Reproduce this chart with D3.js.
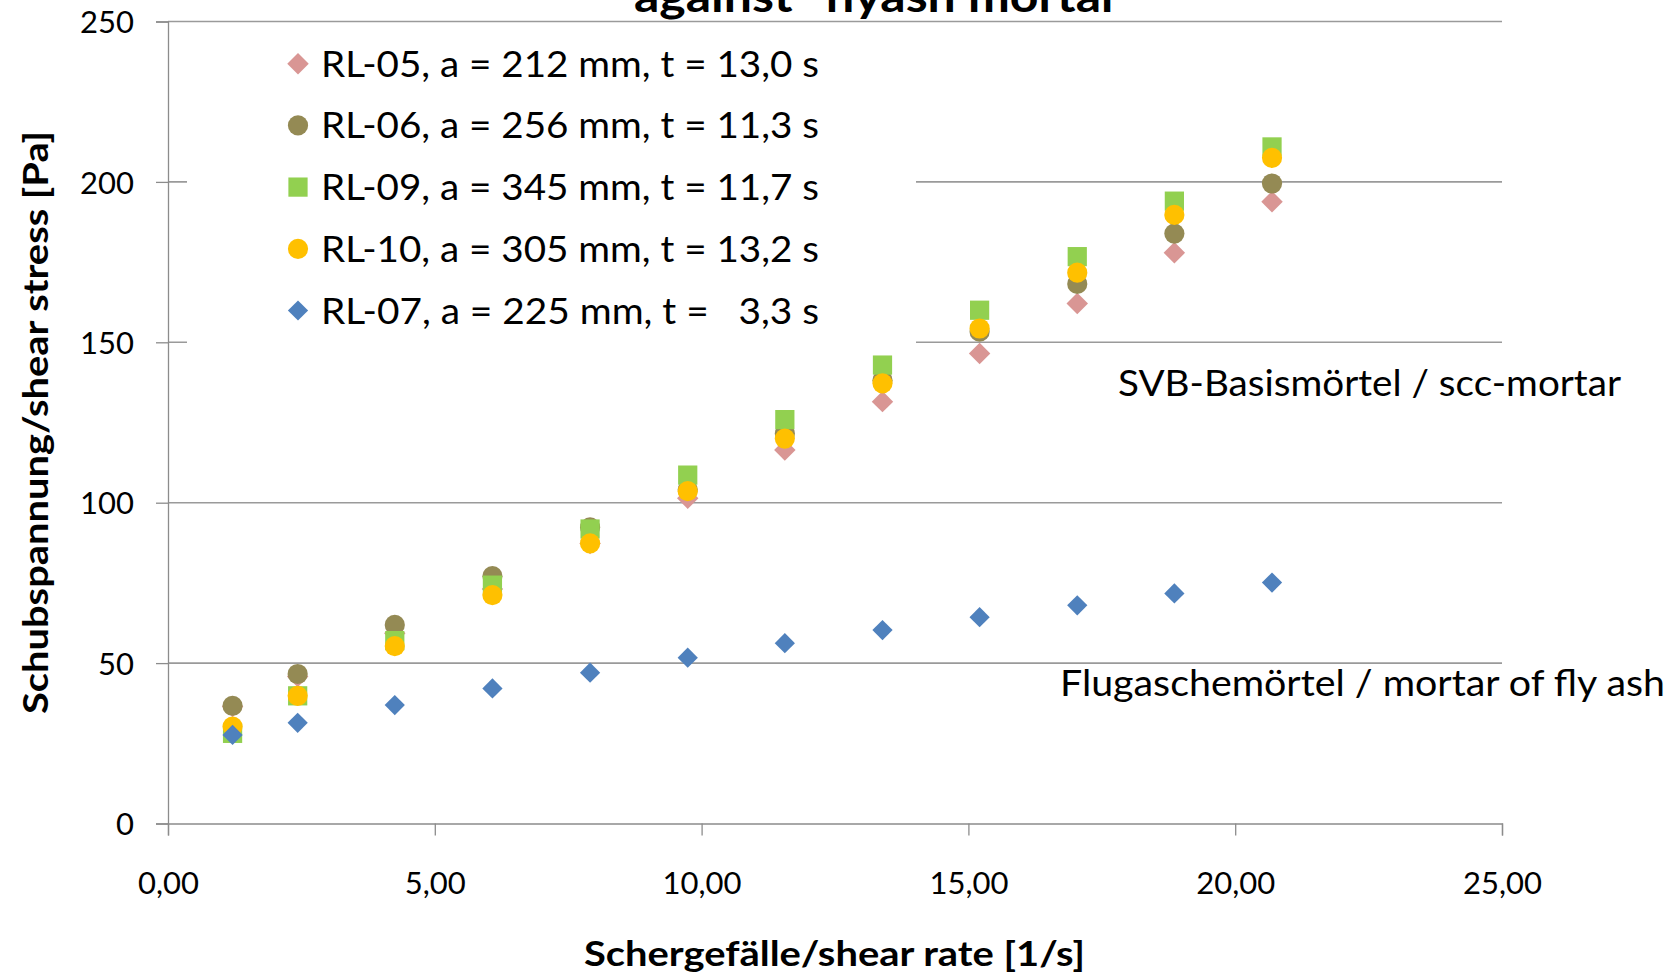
<!DOCTYPE html>
<html lang="en">
<head>
<meta charset="utf-8">
<title>Schubspannung / shear stress</title>
<script src="https://d3js.org/d3.v7.min.js"></script>
<style>
body { margin: 0; background: #fff; }
svg { display: block; }
text { font-family: Lato, "Open Sans", sans-serif; fill: #000; }
</style>
</head>
<body>
<div id="chart"></div>
<script>

// shear rate [1/s], same for all runs
var shearRate = [1.21, 2.43, 4.25, 6.08, 7.91, 9.74, 11.56, 13.39, 15.21, 17.04, 18.86, 20.69];

// shear stress [Pa] per run
var rl05 = [36.5, 45.8, 59.3, 73.1, 87.3, 101.4, 116.4, 131.5, 146.5, 162.1, 177.9, 193.8];
var rl06 = [36.7, 46.6, 61.9, 77.1, 92.3, 104.0, 121.5, 138.2, 153.3, 168.2, 183.9, 199.5];
var rl09 = [28.1, 39.8, 57.0, 74.3, 91.8, 108.6, 125.9, 142.9, 160.0, 176.7, 194.0, 210.9];
var rl10 = [30.2, 39.8, 55.3, 71.2, 87.3, 103.6, 120.0, 137.2, 154.3, 171.7, 189.7, 207.5];
var rl07 = [27.6, 31.4, 36.9, 42.1, 47.0, 51.7, 56.2, 60.3, 64.3, 68.0, 71.7, 75.1];

var seriesNames = ["RL-05, a = 212 mm, t = 13,0 s",
                   "RL-06, a = 256 mm, t = 11,3 s",
                   "RL-09, a = 345 mm, t = 11,7 s",
                   "RL-10, a = 305 mm, t = 13,2 s",
                   "RL-07, a = 225 mm, t =   3,3 s"];
var seriesValues = [rl05, rl06, rl09, rl10, rl07];

var xTicks = [0, 5, 10, 15, 20, 25];
var yTicks = [0, 50, 100, 150, 200, 250];

var width = 1679, height = 973;

var svg = d3.select("#chart").append("svg")
    .attr("width", width)
    .attr("height", height);

var x = d3.scaleLinear().domain([0, 25]).range([168, 1502]);
var y = d3.scaleLinear().domain([0, 250]).range([823.5, 21.5]);

// diamond like the excel marker (as wide as it is high)
var diamond = {
  draw: function(ctx, size) {
    var r = Math.sqrt(size / 2);
    ctx.moveTo(0, -r);
    ctx.lineTo(r, 0);
    ctx.lineTo(0, r);
    ctx.lineTo(-r, 0);
    ctx.closePath();
  }
};

var styles = [
  {color: "#D99694", type: diamond, size: 230},
  {color: "#948A54", type: d3.symbolCircle, size: 320},
  {color: "#92D050", type: d3.symbolSquare, size: 370},
  {color: "#FFC000", type: d3.symbolCircle, size: 320},
  {color: "#4F81BD", type: diamond, size: 205}
];

// grid lines
svg.append("g")
  .selectAll("line")
  .data(yTicks.slice(1))
  .enter().append("line")
    .attr("x1", x(0))
    .attr("x2", x(25))
    .attr("y1", function(d) { return y(d); })
    .attr("y2", function(d) { return y(d); })
    .attr("stroke", "#9a9a9a")
    .attr("stroke-width", 1.6);

// y axis
var yAxis = svg.append("g")
  .attr("transform", "translate(" + x(0) + ",0)")
  .call(d3.axisLeft(y).tickValues(yTicks).tickSize(12).tickPadding(22).tickFormat(d3.format("d")));

// x axis
var xAxis = svg.append("g")
  .attr("transform", "translate(0," + y(0) + ")")
  .call(d3.axisBottom(x).tickValues(xTicks).tickSize(12).tickPadding(36)
        .tickFormat(function(d) { return d.toFixed(2).replace(".", ","); }));

[xAxis, yAxis].forEach(function(a) {
  a.select(".domain").attr("stroke", "#8c8c8c").attr("stroke-width", 1.3);
  a.selectAll(".tick line").attr("stroke", "#8c8c8c").attr("stroke-width", 1.3);
  a.selectAll(".tick text")
    .style("font-family", "Lato, sans-serif")
    .style("font-size", "31px")
    .attr("fill", "#000");
});
yAxis.selectAll(".tick text").attr("dy", "0.36em");

// legend box covers the grid behind it
svg.append("rect")
  .attr("x", 187).attr("y", 34)
  .attr("width", 729).attr("height", 316)
  .attr("fill", "#fff");

// points, drawn in series order
seriesValues.forEach(function(vals, i) {
  var st = styles[i];
  svg.append("g")
    .selectAll("path")
    .data(vals)
    .enter().append("path")
      .attr("d", d3.symbol().type(st.type).size(st.size))
      .attr("transform", function(d, j) { return "translate(" + x(shearRate[j]) + "," + y(d) + ")"; })
      .attr("fill", st.color);
});

// legend
var legend = svg.append("g");
seriesNames.forEach(function(name, i) {
  var st = styles[i];
  var by = 76.7 + i * 61.7;
  legend.append("path")
    .attr("d", d3.symbol().type(st.type).size(st.size))
    .attr("transform", "translate(298," + (by - 13) + ")")
    .attr("fill", st.color);
  legend.append("text")
    .attr("x", 321)
    .attr("y", by)
    .attr("font-size", 37)
    .attr("textLength", 498)
    .attr("lengthAdjust", "spacingAndGlyphs")
    .style("white-space", "pre")
    .text(name);
});

// annotations
svg.append("text")
  .attr("x", 1118).attr("y", 395.5)
  .attr("font-size", 37)
  .attr("textLength", 503)
  .attr("lengthAdjust", "spacingAndGlyphs")
  .text("SVB-Basismörtel / scc-mortar");

svg.append("text")
  .attr("x", 1060).attr("y", 695.5)
  .attr("font-size", 37)
  .attr("textLength", 605)
  .attr("lengthAdjust", "spacingAndGlyphs")
  .text("Flugaschemörtel / mortar of fly ash");

// title, cut off at the top of the picture
svg.append("text")
  .attr("x", 634).attr("y", 11.5)
  .attr("font-size", 44)
  .attr("font-weight", "bold")
  .attr("textLength", 505)
  .attr("lengthAdjust", "spacingAndGlyphs")
  .text("against \u201Cflyash mortar\u201D");

// axis titles
svg.append("text")
  .attr("x", 584).attr("y", 966)
  .attr("font-size", 35)
  .attr("font-weight", "bold")
  .attr("textLength", 501)
  .attr("lengthAdjust", "spacingAndGlyphs")
  .text("Schergefälle/shear rate [1/s]");

svg.append("text")
  .attr("transform", "translate(48,714) rotate(-90)")
  .attr("font-size", 35)
  .attr("font-weight", "bold")
  .attr("textLength", 583)
  .attr("lengthAdjust", "spacingAndGlyphs")
  .text("Schubspannung/shear stress [Pa]");

</script>
</body>
</html>
